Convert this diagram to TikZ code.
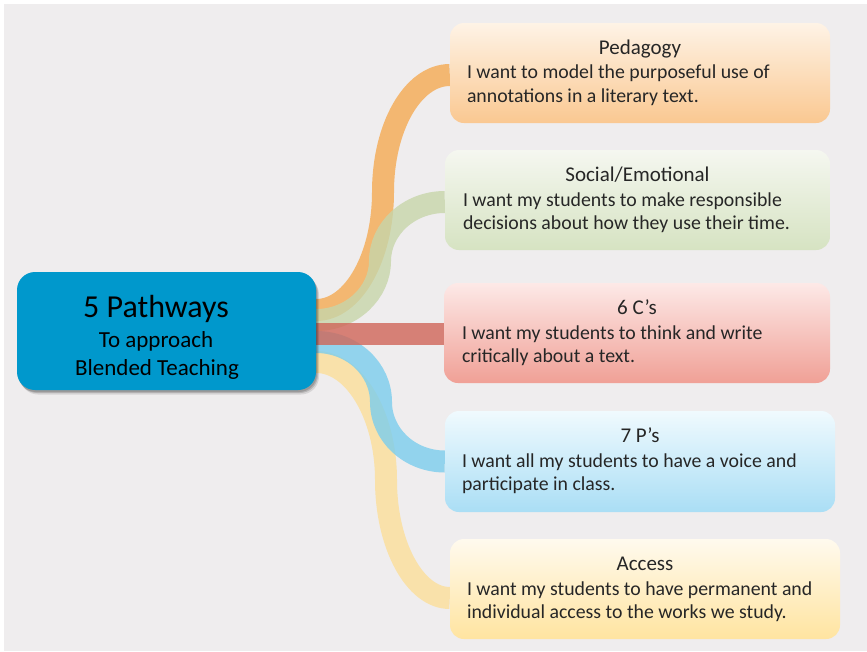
\documentclass[tikz,border=0pt]{standalone}
\usepackage{fontspec}
\setmainfont{Carlito}
\usetikzlibrary{calc,shadows}
\definecolor{bgcol}{RGB}{239,237,238}
\definecolor{txt}{RGB}{38,38,38}
\definecolor{maincol}{RGB}{0,152,204}
\definecolor{orb}{RGB}{245,170,82}
\definecolor{grb}{RGB}{199,214,170}
\definecolor{rdb}{RGB}{208,101,88}
\definecolor{blb}{RGB}{123,205,237}
\definecolor{ylb}{RGB}{252,223,153}
\pgfdeclarelayer{back}
\pgfdeclarelayer{mid}
\pgfsetlayers{back,mid,main}
\tikzset{
  mainbox/.style={draw=none, fill=maincol, rounded corners=18pt, inner sep=0pt,
    drop shadow={shadow xshift=1pt, shadow yshift=-2pt, opacity=0.15, fill=black},
    drop shadow={shadow xshift=2pt, shadow yshift=-3pt, opacity=0.15, fill=black},
    drop shadow={shadow xshift=3pt, shadow yshift=-4.5pt, opacity=0.1, fill=black}},
  pathbox/.style={draw=none, rounded corners=14pt, inner sep=0pt},
  band/.style={line width=22pt, opacity=0.8, line cap=butt},
  titletext/.style={anchor=base, inner sep=0pt, text=txt, font=\fontsize{21}{25}\selectfont},
  bodytext/.style={anchor=base west, inner sep=0pt, text=txt, font=\fontsize{19.8}{23.5}\selectfont},
}
\begin{document}
\begin{tikzpicture}[x=1pt,y=-1pt]
\useasboundingbox (0,0) rectangle (867,651);
\begin{pgfonlayer}{back}
\fill[white] (0,0) rectangle (867,651);
\fill[bgcol] (4,4) rectangle (867,651);
\end{pgfonlayer}

% central node
\node[mainbox, minimum width=299pt, minimum height=118pt] (c) at (166.5,331) {};
\node[anchor=base, inner sep=0pt, text=black, font=\fontsize{32}{38}\selectfont] (c1) at (156,317) {5 Pathways};
\node[anchor=base, inner sep=0pt, text=black, font=\fontsize{23}{27}\selectfont] (c2) at (156,347) {To approach};
\node[anchor=base, inner sep=0pt, text=black, font=\fontsize{23}{27}\selectfont] (c3) at (157,375) {Blended Teaching};

% pathway boxes
\node[pathbox, top color={rgb,255:red,254;green,243;blue,230}, bottom color={rgb,255:red,250;green,200;blue,145},
  minimum width=380pt, minimum height=100pt] (p) at (640,73) {};
\node[titletext] (pt) at ($(p.north)+(0,32)$) {Pedagogy};
\node[bodytext] (p1) at ($(p.north west)+(17,56)$) {I want to model the purposeful use of};
\node[bodytext] (p2) at ($(p.north west)+(17,80)$) {annotations in a literary text.};

\node[pathbox, top color={rgb,255:red,245;green,247;blue,240}, bottom color={rgb,255:red,214;green,227;blue,194},
  minimum width=385pt, minimum height=100pt] (s) at (637.5,200) {};
\node[titletext] (st) at ($(s.north)+(0,32)$) {Social/Emotional};
\node[bodytext] (s1) at ($(s.north west)+(18,57)$) {I want my students to make responsible};
\node[bodytext] (s2) at ($(s.north west)+(18,80)$) {decisions about how they use their time.};

\node[pathbox, top color={rgb,255:red,253;green,233;blue,231}, bottom color={rgb,255:red,240;green,160;blue,150},
  minimum width=386pt, minimum height=100pt] (cc) at (637,333) {};
\node[titletext] (cct) at ($(cc.north)+(0,32)$) {6 C’s};
\node[bodytext] (cc1) at ($(cc.north west)+(18,57)$) {I want my students to think and write};
\node[bodytext] (cc2) at ($(cc.north west)+(18,80)$) {critically about a text.};

\node[pathbox, top color={rgb,255:red,240;green,250;blue,254}, bottom color={rgb,255:red,170;green,222;blue,245},
  minimum width=390pt, minimum height=101pt] (ps) at (640,461.5) {};
\node[titletext] (pst) at ($(ps.north)+(0,32)$) {7 P’s};
\node[bodytext] (ps1) at ($(ps.north west)+(17,57)$) {I want all my students to have a voice and};
\node[bodytext] (ps2) at ($(ps.north west)+(17,80)$) {participate in class.};

\node[pathbox, top color={rgb,255:red,255;green,250;blue,238}, bottom color={rgb,255:red,255;green,228;blue,160},
  minimum width=390pt, minimum height=100pt] (a) at (645,589) {};
\node[titletext] (at) at ($(a.north)+(0,32)$) {Access};
\node[bodytext] (a1) at ($(a.north west)+(17,57)$) {I want my students to have permanent and};
\node[bodytext] (a2) at ($(a.north west)+(17,80)$) {individual access to the works we study.};

% bend points of the connectors
\coordinate (om) at (383,192);
\coordinate (gm) at (380,261);
\coordinate (bm) at (381,402);
\coordinate (ym) at (386,480);

% connectors
\begin{pgfonlayer}{mid}
\draw[band, orb] ([shift={(-12pt,21pt)}]c.east) -- ++(12,0)
  .. controls +(37,0) and +(0,65) .. (om)
  .. controls +(0,-65) and +(-37,0) .. ([yshift=-2pt]p.west);
\draw[band, grb] ([shift={(-12pt,11pt)}]c.east) -- ++(12,0)
  .. controls +(35,0) and +(0,32) .. (gm)
  .. controls +(0,-32) and +(-36,0) .. ([yshift=-2pt]s.west);
\draw[band, ylb] ([shift={(-12pt,-31pt)}]c.east) -- ++(12,0)
  .. controls +(38,0) and +(0,-65) .. (ym)
  .. controls +(0,65) and +(-35,0) .. ([yshift=-9pt]a.west);
\draw[band, blb] ([shift={(-12pt,-11pt)}]c.east) -- ++(12,0)
  .. controls +(36,0) and +(0,-33) .. (bm)
  .. controls +(0,33) and +(-35,0) .. (ps.west);
\draw[band, rdb] ([shift={(-12pt,-3pt)}]c.east) -- ([yshift=-1pt]cc.west);
\end{pgfonlayer}
\end{tikzpicture}
\end{document}
